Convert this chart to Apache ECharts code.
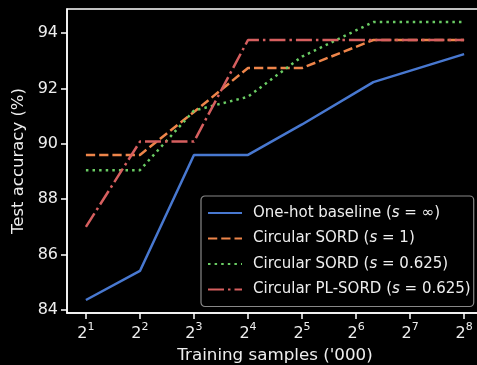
<!DOCTYPE html>
<html>
<head>
<meta charset="utf-8">
<script src="https://cdn.jsdelivr.net/npm/echarts@6/dist/echarts.min.js"></script>
<style>
  html, body { margin: 0; padding: 0; background: #000; }
  #chart { width: 477px; height: 365px; }
</style>
</head>
<body>
<div id="chart"></div>
<script>
// training samples ('000) as powers of two: 2^x
const sampleExp = [1, 2, 3, 4, 5, 6.32, 8];
const xTicks = [1, 2, 3, 4, 5, 6, 7, 8];
const yTicks = [84, 86, 88, 90, 92, 94];

const oneHot = [84.36, 85.41, 89.6, 89.6, 90.7, 92.23, 93.24];
const sord1 = [89.6, 89.6, 91.15, 92.74, 92.74, 93.75, 93.75];
const sord0625 = [89.05, 89.05, 91.2, 91.7, 93.15, 94.4, 94.4];
const plSord0625 = [87.0, 90.08, 90.08, 93.75, 93.75, 93.75, 93.75];

const font = "DejaVu Sans";
const fg = "#eeeeee";

const pairs = (ys) => sampleExp.map((x, i) => [x, ys[i]]);

const mkSeries = (name, ys, color, dash) => ({
  name,
  type: "line",
  data: pairs(ys),
  symbol: "none",
  animation: false,
  lineStyle: { color, width: 2.5, type: dash, cap: "butt" },
  itemStyle: { color },
});

const chart = echarts.init(document.getElementById("chart"));
chart.setOption({
  backgroundColor: "#000",
  textStyle: { fontFamily: font },
  grid: {
    left: 67,
    top: 9,
    width: 416,
    bottom: 52,
    outerBoundsMode: "none",
    show: true,
    borderColor: "#fff",
    borderWidth: 1.5,
  },
  xAxis: {
    type: "value",
    min: 0.65,
    max: 8.35,
    name: "Training samples ('000)",
    nameLocation: "middle",
    nameGap: 32,
    nameTextStyle: { color: fg, fontSize: 16.7, fontFamily: font },
    splitLine: { show: false },
    axisLine: { show: true, lineStyle: { color: "#fff", width: 1.5 } },
    axisTick: {
      show: true,
      customValues: xTicks,
      length: 6,
      lineStyle: { color: "#fff", width: 1.5 },
    },
    axisLabel: {
      customValues: xTicks,
      margin: 9,
      formatter: (v) => "{b|2}{s|" + v + "}",
      rich: {
        b: { fontSize: 16, color: fg, fontFamily: font, lineHeight: 20, verticalAlign: "bottom" },
        s: { fontSize: 11, color: fg, fontFamily: font, verticalAlign: "top", lineHeight: 12 },
      },
    },
  },
  yAxis: {
    type: "value",
    min: 83.89,
    max: 94.87,
    name: "Test accuracy (%)",
    nameLocation: "middle",
    nameGap: 36,
    nameTextStyle: { color: fg, fontSize: 16.5, fontFamily: font },
    splitLine: { show: false },
    axisLine: { show: true, lineStyle: { color: "#fff", width: 1.5 } },
    axisTick: {
      show: true,
      customValues: yTicks,
      length: 6,
      lineStyle: { color: "#fff", width: 1.5 },
    },
    axisLabel: {
      customValues: yTicks,
      margin: 9,
      color: fg,
      fontSize: 16,
      fontFamily: font,
    },
  },
  legend: {
    orient: "vertical",
    left: 201,
    top: 196,
    padding: [8, 3, 8, 6],
    itemGap: 7.5,
    itemWidth: 34,
    itemHeight: 14,
    itemStyle: { opacity: 0 },
    backgroundColor: "#000",
    borderColor: "#888",
    borderWidth: 1.2,
    borderRadius: 4,
    data: [
      "One-hot baseline",
      "Circular SORD 1",
      "Circular SORD 0.625",
      "Circular PL-SORD 0.625",
    ],
    formatter: (name) => {
      const map = {
        "One-hot baseline": ["One-hot baseline (", " = ∞)"],
        "Circular SORD 1": ["Circular SORD (", " = 1)"],
        "Circular SORD 0.625": ["Circular SORD (", " = 0.625)"],
        "Circular PL-SORD 0.625": ["Circular PL-SORD (", " = 0.625)"],
      };
      const p = map[name];
      return "{n|" + p[0] + "}{i|s}{n|" + p[1] + "}";
    },
    textStyle: {
      color: fg,
      fontSize: 15,
      fontFamily: font,
      lineHeight: 18,
      padding: [0, 0, 0, 6],
      rich: {
        n: { color: fg, fontSize: 15, fontFamily: font, lineHeight: 18 },
        i: { color: fg, fontSize: 15, fontFamily: font, fontStyle: "italic", lineHeight: 18 },
      },
    },
  },
  series: [
    mkSeries("One-hot baseline", oneHot, "#4878d0", "solid"),
    mkSeries("Circular SORD 1", sord1, "#ee854a", [9.25, 4]),
    mkSeries("Circular SORD 0.625", sord0625, "#6acc64", [2.5, 4.1]),
    mkSeries("Circular PL-SORD 0.625", plSord0625, "#d65f5f", [16, 4, 2.5, 4]),
  ],
});
</script>
</body>
</html>
